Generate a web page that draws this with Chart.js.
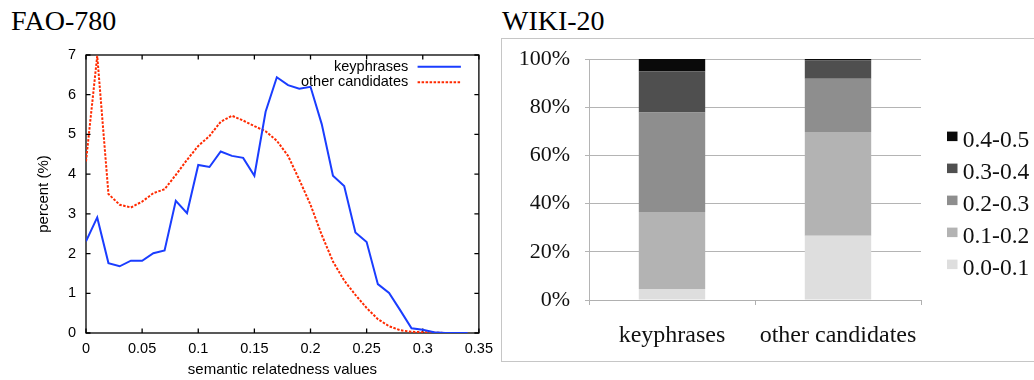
<!DOCTYPE html>
<html>
<head>
<meta charset="utf-8">
<script src="https://cdn.jsdelivr.net/npm/chart.js@4.4.1/dist/chart.umd.min.js"></script>
<style>
  html, body { margin: 0; padding: 0; background: #fff; }
  body { width: 1034px; height: 380px; position: relative; overflow: hidden; }
  .panel-title { position: absolute; font: 28px "Liberation Serif", serif; line-height: 28px; color: #000; }
  #wikiBox { position: absolute; left: 501px; top: 38px; width: 560px; height: 322px; border: 1px solid #c6c6c6; }
  canvas { position: absolute; top: 0; }
</style>
</head>
<body>
<div class="panel-title" style="left:11px; top:7px">FAO-780</div>
<div class="panel-title" style="left:502px; top:7px">WIKI-20</div>
<div id="wikiBox"></div>
<canvas id="faoChart" width="500" height="380" style="left:0"></canvas>
<canvas id="wikiChart" width="534" height="380" style="left:500px"></canvas>
<script>
// FAO-780: share of terms per semantic relatedness value (%)
const relatedness = [0, 0.01, 0.02, 0.03, 0.04, 0.05, 0.06, 0.07, 0.08, 0.09,
    0.10, 0.11, 0.12, 0.13, 0.14, 0.15, 0.16, 0.17, 0.18, 0.19,
    0.20, 0.21, 0.22, 0.23, 0.24, 0.25, 0.26, 0.27, 0.28, 0.29,
    0.30, 0.31, 0.32, 0.33, 0.34];
const keyphrasePct = [2.31, 2.91, 1.76, 1.68, 1.82, 1.82, 2.01, 2.08, 3.33, 3.02,
    4.23, 4.18, 4.57, 4.46, 4.41, 3.96, 5.57, 6.44, 6.24, 6.15,
    6.20, 5.26, 3.96, 3.70, 2.53, 2.29, 1.23, 1.01, 0.57, 0.12,
    0.08, 0.02, 0, 0, 0];
const otherPct = [4.32, 6.98, 3.50, 3.23, 3.16, 3.31, 3.52, 3.62, 3.98, 4.36,
    4.71, 4.96, 5.32, 5.47, 5.35, 5.21, 5.08, 4.84, 4.46, 3.86,
    3.23, 2.47, 1.80, 1.32, 0.96, 0.63, 0.35, 0.17, 0.07, 0.03,
    0.02, 0.01, 0, 0, 0];

// WIKI-20: distribution over relatedness ranges (%)
const groups = ["keyphrases", "other candidates"];
const ranges = ["0.0-0.1", "0.1-0.2", "0.2-0.3", "0.3-0.4", "0.4-0.5"];
const range00 = [4.6, 26.7];
const range01 = [31.9, 43.0];
const range02 = [41.3, 22.1];
const range03 = [17.1, 7.6];
const range04 = [5.1, 0.6];
const rangeGrays = ["#dedede", "#b3b3b3", "#8e8e8e", "#4f4f4f", "#0a0a0a"];

const sans = '"Liberation Sans", Arial, sans-serif';
const serif = '"Liberation Serif", "Times New Roman", serif';

// box around the plot with inward ticks on every side
const frameTicks = {
    id: "frameTicks",
    beforeDatasetsDraw(chart) {
        const { ctx, chartArea: a, scales: { x, y } } = chart;
        const len = 4.5;
        ctx.save();
        ctx.strokeStyle = "#000";
        ctx.lineWidth = 1.3;
        ctx.beginPath();
        x.ticks.forEach(t => {
            const px = x.getPixelForValue(t.value);
            ctx.moveTo(px, a.bottom); ctx.lineTo(px, a.bottom - len);
            ctx.moveTo(px, a.top); ctx.lineTo(px, a.top + len);
        });
        y.ticks.forEach(t => {
            const py = y.getPixelForValue(t.value);
            ctx.moveTo(a.left, py); ctx.lineTo(a.left + len, py);
            ctx.moveTo(a.right, py); ctx.lineTo(a.right - len, py);
        });
        ctx.stroke();
        ctx.strokeRect(a.left, a.top, a.right - a.left, a.bottom - a.top);
        ctx.restore();
    }
};

// key in the top right corner: label first, line sample after it
const insideKey = {
    id: "insideKey",
    afterDraw(chart) {
        const { ctx, chartArea: a } = chart;
        ctx.save();
        ctx.font = "14.5px " + sans;
        ctx.textAlign = "right";
        ctx.textBaseline = "middle";
        chart.data.datasets.forEach((ds, i) => {
            const yy = a.top + 11.7 + i * 15.6;
            ctx.fillStyle = "#000";
            ctx.fillText(ds.label, a.right - 70.7, yy);
            ctx.strokeStyle = ds.borderColor;
            ctx.lineWidth = ds.borderWidth;
            ctx.setLineDash(ds.borderDash || []);
            ctx.beginPath();
            ctx.moveTo(a.right - 61.3, yy);
            ctx.lineTo(a.right - 18, yy);
            ctx.stroke();
        });
        ctx.restore();
    }
};

// legend at the right of the bars, top range first
const sideKey = {
    id: "sideKey",
    afterDraw(chart) {
        const { ctx, chartArea: a } = chart;
        ctx.save();
        ctx.font = "23.5px " + serif;
        ctx.textAlign = "left";
        ctx.textBaseline = "middle";
        const sets = chart.data.datasets.slice().reverse();
        sets.forEach((ds, i) => {
            const yy = a.top + 81.8 + i * 32;
            ctx.fillStyle = ds.backgroundColor;
            ctx.fillRect(a.right + 26, yy - 9.2, 10.5, 9.5);
            ctx.fillStyle = "#111";
            ctx.fillText(ds.label, a.right + 41.7, yy);
        });
        ctx.restore();
    }
};

new Chart(document.getElementById("faoChart"), {
    type: "line",
    data: {
        datasets: [{
            label: "keyphrases",
            data: relatedness.map((v, i) => ({ x: v, y: keyphrasePct[i] })),
            borderColor: "#1a3dff",
            borderWidth: 2,
            pointRadius: 0,
            tension: 0
        }, {
            label: "other candidates",
            data: relatedness.map((v, i) => ({ x: v, y: otherPct[i] })),
            borderColor: "#ff2a00",
            borderWidth: 2,
            borderDash: [2.5, 1.5],
            pointRadius: 0,
            tension: 0
        }]
    },
    options: {
        responsive: false,
        animation: false,
        layout: { padding: { left: 0, top: 55, right: 16, bottom: 0 } },
        plugins: { legend: { display: false }, tooltip: { enabled: false } },
        scales: {
            x: {
                type: "linear",
                min: 0,
                max: 0.35,
                grid: { display: false, drawTicks: false },
                border: { display: false },
                ticks: {
                    stepSize: 0.05,
                    padding: 7,
                    color: "#000",
                    font: { family: sans, size: 14.5 },
                    callback: v => String(+v.toFixed(2))
                },
                title: {
                    display: true,
                    text: "semantic relatedness values",
                    color: "#000",
                    font: { family: sans, size: 15 },
                    padding: { top: 0, bottom: 1 }
                },
                afterFit: scale => { scale.height = 47; }
            },
            y: {
                min: 0,
                max: 7,
                grid: { display: false, drawTicks: false },
                border: { display: false },
                ticks: {
                    stepSize: 1,
                    padding: 10,
                    color: "#000",
                    font: { family: sans, size: 14.5 }
                },
                title: {
                    display: true,
                    text: "percent (%)",
                    color: "#000",
                    font: { family: sans, size: 15 },
                    padding: { top: 35, bottom: 0 }
                },
                afterFit: scale => { scale.width = 86; }
            }
        }
    },
    plugins: [frameTicks, insideKey]
});

const rangeData = [range00, range01, range02, range03, range04];

new Chart(document.getElementById("wikiChart"), {
    type: "bar",
    data: {
        labels: groups,
        datasets: ranges.map((r, i) => ({
            label: r,
            data: rangeData[i],
            backgroundColor: rangeGrays[i],
            borderWidth: 0,
            categoryPercentage: 0.8,
            barPercentage: 0.5
        }))
    },
    options: {
        responsive: false,
        animation: false,
        layout: { padding: { left: 0, top: 59, right: 113, bottom: 0 } },
        plugins: { legend: { display: false }, tooltip: { enabled: false } },
        scales: {
            x: {
                stacked: true,
                grid: { drawOnChartArea: false, drawTicks: true, tickLength: 5, color: "#b0b0b0" },
                border: { display: true, color: "#b0b0b0" },
                ticks: { padding: 16, color: "#111", font: { family: serif, size: 24 } },
                afterFit: scale => { scale.height = 80; }
            },
            y: {
                stacked: true,
                min: 0,
                max: 100,
                grid: { color: "#b4b4b4", lineWidth: 1, tickLength: 4 },
                border: { display: true, color: "#b4b4b4" },
                ticks: {
                    stepSize: 20,
                    padding: 15,
                    color: "#111",
                    font: { family: serif, size: 22 },
                    callback: v => v + "%"
                },
                afterFit: scale => { scale.width = 89; }
            }
        }
    },
    plugins: [sideKey]
});
</script>
</body>
</html>
